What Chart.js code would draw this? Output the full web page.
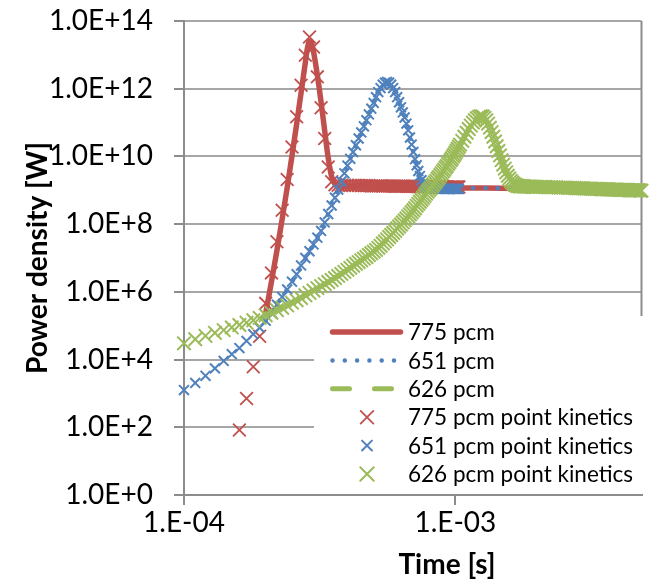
<!DOCTYPE html>
<html>
<head>
<meta charset="utf-8">
<script src="https://cdn.jsdelivr.net/npm/chart.js@4.4.1/dist/chart.umd.min.js"></script>
<style>
  html, body { margin: 0; padding: 0; background: #fff; }
</style>
</head>
<body>
<canvas id="powerChart" width="653" height="579"></canvas>
<script>
// ---- data (power values are log10 of power density in W) ----

// point kinetics time grid, in units of 10 microseconds
const pkTime = [
  10, 11, 12, 13, 14, 15, 16, 17, 18, 19, 20, 21, 22, 23, 24, 25, 26, 27, 28, 29,
  30, 31, 32, 33, 34, 35, 36, 37, 38, 39, 40, 41, 42, 43, 44, 45, 46, 47, 48, 49,
  50, 51, 52, 53, 54, 55, 56, 57, 58, 59, 60, 61, 62, 63, 64, 65, 66, 67, 68, 69,
  70, 71, 72, 73, 74, 75, 76, 77, 78, 79, 80, 81, 82, 83, 84, 85, 86, 87, 88, 89,
  90, 91, 92, 93, 94, 95, 96, 97, 98, 99, 100, 101, 102, 103,
  104, 106, 108, 110, 112, 114, 116, 118, 120, 122, 124, 126, 128, 130, 132, 134, 136, 138, 140,
  142, 144, 146, 148, 150, 152, 154, 156, 158, 160, 162, 164, 166, 168, 170, 172, 174, 176, 178,
  180, 182, 184, 186, 188, 190, 192, 194, 196, 198, 200,
  205, 210, 215, 220, 225, 230, 235, 240, 245, 250, 255, 260, 265, 270, 275, 280, 285, 290, 295, 300,
  305, 310, 315, 320, 325, 330, 335, 340, 345, 350, 355, 360, 365, 370, 375, 380, 385, 390, 395, 400,
  405, 410, 415, 420, 425, 430, 435, 440, 445, 450, 455, 460, 465, 470, 475, 480, 485
];

const pk775 = [
  null, null, null, null, null, null,
  1.92, 2.85, 3.79, 4.69, 5.66, 6.56, 7.48, 8.41, 9.32, 10.28, 11.17, 12.10, 12.99, 13.53,
  13.23, 12.35, 11.44, 10.53, 9.69, 9.25, 9.16,
  9.15, 9.15, 9.15, 9.15, 9.14, 9.14, 9.14, 9.14, 9.14, 9.14,
  9.14, 9.14, 9.13, 9.13, 9.13, 9.13, 9.13, 9.13, 9.13, 9.13,
  9.13, 9.13, 9.13, 9.12, 9.12, 9.12, 9.12, 9.12, 9.12, 9.12,
  9.12, 9.12, 9.12, 9.12, 9.12, 9.11, 9.11, 9.11, 9.11, 9.11,
  9.11, 9.11, 9.11, 9.11, 9.11, 9.11, 9.11, 9.10, 9.10, 9.10,
  9.10, 9.10, 9.10, 9.10, 9.10, 9.10, 9.10, 9.10, 9.10, 9.10,
  9.10, 9.10, 9.10, 9.10, 9.10, 9.10, 9.10
];

const pk651 = [
  3.10, 3.31, 3.52, 3.74, 3.96, 4.16, 4.34, 4.55, 4.75, 4.94,
  5.15, 5.38, 5.62, 5.85, 6.07, 6.30, 6.52, 6.78, 7.00, 7.20,
  7.40, 7.60, 7.80, 8.05, 8.30, 8.55, 8.78, 9.02, 9.26, 9.50,
  9.73, 9.93, 10.13, 10.33, 10.53, 10.71, 10.89, 11.07, 11.24, 11.41,
  11.58, 11.75, 11.90, 12.02, 12.12, 12.18, 12.20, 12.18, 12.12, 12.02,
  11.90, 11.75, 11.60, 11.45, 11.30, 11.15, 10.97, 10.77, 10.56, 10.35,
  10.13, 9.92, 9.74, 9.57, 9.42, 9.30, 9.20, 9.13, 9.09,
  9.07, 9.07, 9.06, 9.06, 9.06, 9.06, 9.05, 9.05, 9.05, 9.05, 9.05, 9.05,
  9.04, 9.04, 9.04, 9.04, 9.04, 9.04, 9.04, 9.04, 9.04, 9.04, 9.04, 9.04, 9.04
];

const pk626 = [
  4.48, 4.60, 4.70, 4.79, 4.87, 4.95, 5.02, 5.09, 5.16, 5.23,
  5.31, 5.38, 5.46, 5.53, 5.60, 5.68, 5.75, 5.82, 5.90, 5.97,
  6.04, 6.11, 6.17, 6.23, 6.29, 6.35, 6.41, 6.47, 6.53, 6.59,
  6.65, 6.71, 6.77, 6.83, 6.88, 6.93, 6.98, 7.03, 7.09, 7.14,
  7.19, 7.24, 7.30, 7.36, 7.43, 7.49, 7.55, 7.62, 7.68, 7.74,
  7.80, 7.87, 7.93, 7.99, 8.05, 8.11, 8.17, 8.23, 8.29, 8.35,
  8.41, 8.47, 8.54, 8.60, 8.66, 8.72, 8.78, 8.84, 8.90, 8.96,
  9.01, 9.06, 9.12, 9.17, 9.23, 9.28, 9.34, 9.39, 9.45, 9.50,
  9.56, 9.61, 9.67, 9.72, 9.78, 9.83, 9.89, 9.94, 10.00, 10.05,
  10.11, 10.17, 10.23, 10.29,
  10.35, 10.46, 10.58, 10.70, 10.81, 10.91, 11.00, 11.07, 11.13, 11.17, 11.19, 11.18, 11.14, 11.07,
  10.97, 10.85, 10.72, 10.58, 10.44, 10.30, 10.16, 10.03, 9.89, 9.76, 9.64, 9.53, 9.43, 9.35,
  9.28, 9.23, 9.19, 9.16, 9.14, 9.13, 9.12, 9.12, 9.12, 9.12, 9.11, 9.11, 9.11, 9.11, 9.11,
  9.11, 9.10, 9.10, 9.10, 9.10, 9.10,
  9.10, 9.10, 9.10, 9.09, 9.09, 9.09, 9.09, 9.08, 9.08, 9.08, 9.08, 9.07, 9.07, 9.07, 9.07,
  9.06, 9.06, 9.06, 9.06, 9.05, 9.05, 9.05, 9.05, 9.04, 9.04, 9.04, 9.04, 9.04, 9.03, 9.03,
  9.03, 9.03, 9.03, 9.02, 9.02, 9.02, 9.02, 9.02, 9.02, 9.01, 9.01, 9.01, 9.01, 9.01, 9.01,
  9.01, 9.00, 9.00, 9.00, 9.00, 9.00, 9.00, 9.00, 9.00, 9.00, 8.99, 8.99
];

// full model curves (time in s)
const time775 = [2.0e-4, 2.1e-4, 2.2e-4, 2.3e-4, 2.4e-4, 2.5e-4, 2.6e-4, 2.7e-4, 2.8e-4, 2.85e-4,
  2.9e-4, 2.95e-4, 3.0e-4, 3.1e-4, 3.2e-4, 3.3e-4, 3.4e-4, 3.5e-4, 3.6e-4, 3.7e-4,
  4.0e-4, 5.0e-4, 7.0e-4, 1.0e-3, 1.5e-3, 2.0e-3, 3.0e-3, 4.85e-3];
const log775 = [5.37, 6.30, 7.22, 8.15, 9.08, 10.02, 10.95, 11.88, 12.78, 13.20,
  13.40, 13.35, 13.10, 12.40, 11.60, 10.75, 9.95, 9.40, 9.18, 9.13,
  9.12, 9.11, 9.09, 9.07, 9.06, 9.05, 9.04, 9.03];

const time651 = [2.0e-4, 2.5e-4, 3.0e-4, 3.2e-4, 3.5e-4, 4.0e-4, 4.5e-4, 5.0e-4, 5.3e-4, 5.6e-4,
  5.9e-4, 6.2e-4, 6.5e-4, 6.8e-4, 7.1e-4, 7.4e-4, 7.7e-4, 8.0e-4, 1.0e-3, 1.5e-3,
  2.0e-3, 3.0e-3, 4.85e-3];
const log651 = [5.15, 6.30, 7.40, 7.80, 8.55, 9.73, 10.71, 11.58, 12.02, 12.20,
  12.02, 11.60, 11.15, 10.56, 9.92, 9.42, 9.13, 9.08, 9.07, 9.06,
  9.05, 9.04, 9.03];

const time626 = [2.0e-4, 3.0e-4, 4.0e-4, 5.0e-4, 6.0e-4, 7.0e-4, 8.0e-4, 9.0e-4, 1.0e-3, 1.1e-3,
  1.2e-3, 1.25e-3, 1.3e-3, 1.4e-3, 1.5e-3, 1.6e-3, 1.7e-3, 2.0e-3, 3.0e-3, 4.0e-3, 4.85e-3];
const log626 = [5.31, 6.04, 6.65, 7.19, 7.80, 8.41, 9.01, 9.56, 10.11, 10.70,
  11.13, 11.19, 11.07, 10.44, 9.76, 9.28, 9.13, 9.10, 9.06, 9.03, 9.00];

const seriesNames = ['775 pcm', '651 pcm', '626 pcm',
  '775 pcm point kinetics', '651 pcm point kinetics', '626 pcm point kinetics'];

const xTicks = [1e-4, 1e-3];
const xTickLabels = ['1.E-04', '1.E-03'];
const yTicks = [1e0, 1e2, 1e4, 1e6, 1e8, 1e10, 1e12, 1e14];
const yTickLabels = ['1.0E+0', '1.0E+2', '1.0E+4', '1.0E+6', '1.0E+8', '1.0E+10', '1.0E+12', '1.0E+14'];

const xTitle = 'Time [s]';
const yTitle = 'Power density [W]';

// ---- helpers ----
const FONT = 'Lato';
const RED = '#c0504d', BLUE = '#4f81bd', GREEN = '#9bbb59';
const AXIS_GREY = '#8c8c8c', GRID_GREY = '#a6a6a6';

function linePoints(times, logs) {
  return times.map((t, i) => ({ x: t, y: Math.pow(10, logs[i]) }));
}

function pkPoints(logs) {
  const pts = [];
  logs.forEach((v, i) => {
    if (v !== null) pts.push({ x: pkTime[i] * 1e-5, y: Math.pow(10, v) });
  });
  return pts;
}

function lineSet(idx, times, logs, color, width, dash, order) {
  return {
    label: seriesNames[idx],
    data: linePoints(times, logs),
    borderColor: color,
    backgroundColor: color,
    borderWidth: width,
    borderDash: dash,
    borderCapStyle: 'round',
    borderJoinStyle: 'round',
    cubicInterpolationMode: 'monotone',
    pointRadius: 0,
    order: order
  };
}

function pkSet(idx, logs, color, radius, width, order) {
  return {
    label: seriesNames[idx],
    data: pkPoints(logs),
    showLine: false,
    pointStyle: 'crossRot',
    pointRadius: radius,
    pointBorderWidth: width,
    pointBorderColor: color,
    borderColor: color,
    backgroundColor: color,
    clip: false,
    order: order
  };
}

// frame on the right side of the plot area
const frame = {
  id: 'frame',
  beforeDatasetsDraw(chart) {
    const { ctx, chartArea } = chart;
    ctx.save();
    ctx.strokeStyle = AXIS_GREY;
    ctx.lineWidth = 2;
    ctx.beginPath();
    ctx.moveTo(chartArea.right, chartArea.top);
    ctx.lineTo(chartArea.right, chartArea.bottom);
    ctx.stroke();
    ctx.restore();
  }
};

// legend drawn inside the plot, Excel style
const insideLegend = {
  id: 'insideLegend',
  afterDraw(chart) {
    const ctx = chart.ctx;
    ctx.save();
    ctx.fillStyle = '#fff';
    ctx.fillRect(314, 316, 333, 178);
    chart.data.datasets.forEach((ds, i) => {
      const y = 332 + i * 28.4;
      if (ds.showLine === false) {
        const h = ds.pointRadius * 0.707;
        const cx = 367;
        ctx.strokeStyle = ds.pointBorderColor;
        ctx.lineWidth = ds.pointBorderWidth;
        ctx.setLineDash([]);
        ctx.beginPath();
        ctx.moveTo(cx - h, y - h); ctx.lineTo(cx + h, y + h);
        ctx.moveTo(cx + h, y - h); ctx.lineTo(cx - h, y + h);
        ctx.stroke();
      } else {
        ctx.strokeStyle = ds.borderColor;
        ctx.lineWidth = ds.borderWidth;
        ctx.lineCap = 'round';
        ctx.setLineDash(ds.borderDash || []);
        ctx.beginPath();
        ctx.moveTo(332.5, y);
        ctx.lineTo(400.5, y);
        ctx.stroke();
        ctx.setLineDash([]);
      }
      ctx.fillStyle = '#000';
      ctx.font = '22.5px ' + FONT;
      ctx.textBaseline = 'middle';
      ctx.textAlign = 'left';
      ctx.fillText(ds.label, 408, y + 1);
    });
    ctx.restore();
  }
};

// axis titles
const axisTitles = {
  id: 'axisTitles',
  afterDraw(chart) {
    const ctx = chart.ctx;
    ctx.save();
    ctx.fillStyle = '#000';
    ctx.font = 'bold 28px ' + FONT;
    ctx.textAlign = 'center';
    ctx.textBaseline = 'middle';
    ctx.fillText(xTitle, 447, 565);
    ctx.translate(38, 258);
    ctx.rotate(-Math.PI / 2);
    ctx.fillText(yTitle, 0, 0);
    ctx.restore();
  }
};

new Chart(document.getElementById('powerChart'), {
  type: 'line',
  data: {
    datasets: [
      lineSet(0, time775, log775, RED, 5.5, [], 6),
      lineSet(1, time651, log651, BLUE, 4.5, [0, 12.3], 5),
      lineSet(2, time626, log626, GREEN, 5, [17, 25], 4),
      pkSet(3, pk775, RED, 9, 1.8, 3),
      pkSet(4, pk651, BLUE, 7, 2, 2),
      pkSet(5, pk626, GREEN, 9.5, 2, 1)
    ]
  },
  options: {
    responsive: false,
    animation: false,
    events: [],
    layout: { padding: { top: 21, right: 4, left: 0, bottom: 0 } },
    plugins: {
      legend: { display: false },
      tooltip: { enabled: false }
    },
    scales: {
      x: {
        type: 'logarithmic',
        min: 1e-4,
        max: 4.85e-3,
        afterBuildTicks: s => { s.ticks = xTicks.map(v => ({ value: v })); },
        afterFit: s => { s.height = 84; s.paddingLeft = 0; s.paddingRight = 0; },
        grid: { drawOnChartArea: false, drawTicks: true, tickLength: 10, color: AXIS_GREY, lineWidth: 2 },
        border: { display: true, color: AXIS_GREY, width: 2 },
        ticks: {
          autoSkip: false,
          maxRotation: 0,
          padding: 1,
          color: '#000',
          font: { family: FONT, size: 28 },
          callback: (v, i) => xTickLabels[i]
        }
      },
      y: {
        type: 'logarithmic',
        min: 1,
        max: 1e14,
        afterBuildTicks: s => { s.ticks = yTicks.map(v => ({ value: v })); },
        afterFit: s => { s.width = 184; s.paddingTop = 0; s.paddingBottom = 0; },
        grid: { color: GRID_GREY, lineWidth: 2, tickLength: 10, tickColor: AXIS_GREY },
        border: { display: true, color: AXIS_GREY, width: 2 },
        ticks: {
          autoSkip: false,
          padding: 21,
          color: '#000',
          font: { family: FONT, size: 28 },
          callback: (v, i) => yTickLabels[i]
        }
      }
    }
  },
  plugins: [frame, insideLegend, axisTitles]
});
</script>
</body>
</html>
